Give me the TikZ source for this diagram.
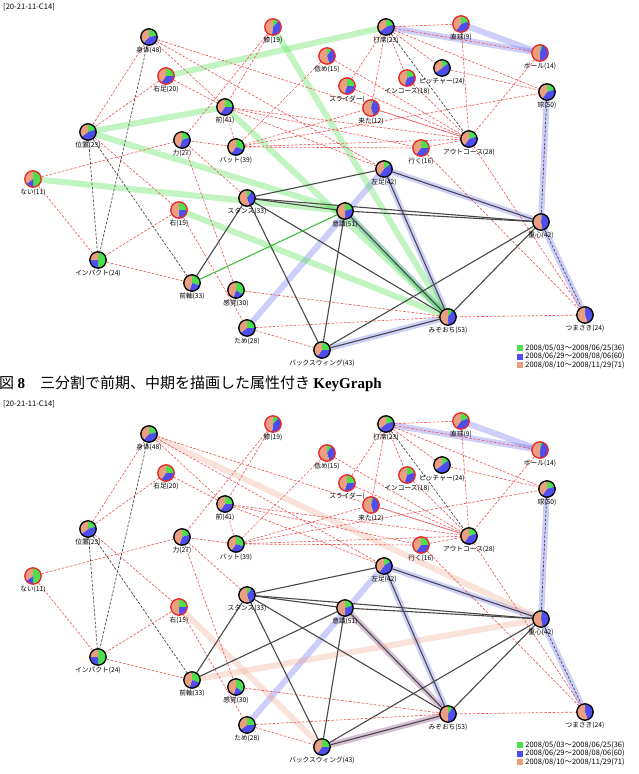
\documentclass[tikz,border=0pt]{standalone}
\usepackage{fontspec}
\setmainfont{Noto Sans CJK JP}
\newfontfamily\capserif{Liberation Serif}
\usepackage{tikz}
\usetikzlibrary{positioning}
\pgfdeclarelayer{bandlayer}
\pgfdeclarelayer{edgelayer}
\pgfsetlayers{bandlayer,edgelayer,main}

\definecolor{kgreen}{RGB}{76,224,76}
\definecolor{kblue}{RGB}{78,78,238}
\definecolor{kpeach}{RGB}{234,160,128}
\definecolor{kring}{RGB}{232,40,40}
\definecolor{kdashred}{RGB}{240,88,88}
\definecolor{kdark}{RGB}{72,72,72}
\definecolor{kgline}{RGB}{60,190,60}

\newcommand{\kr}{8.2}
% pie node: name, position, green share, blue share, ring colour, label
\newcommand{\kpie}[6]{%
  \pgfmathsetmacro\ka{-90+360*#3}%
  \pgfmathsetmacro\kb{\ka+360*#4}%
  \fill[kgreen] (#2) -- ++(-90:\kr) arc[start angle=-90, end angle=\ka, radius=\kr] -- cycle;
  \fill[kblue] (#2) -- ++(\ka:\kr) arc[start angle=\ka, end angle=\kb, radius=\kr] -- cycle;
  \fill[kpeach] (#2) -- ++(\kb:\kr) arc[start angle=\kb, end angle=270, radius=\kr] -- cycle;
  \node[kwnode, draw=#5, label={[klabel]below:#6}] (#1) at (#2) {};
}

\newcommand{\kgnodes}{%
  \kpie{shintai}{149,37}{.22}{.40}{black}{身体(48)}
  \kpie{hiza}{273,27}{.12}{.40}{kring}{膝(19)}
  \kpie{migiashi}{166,76}{.25}{.35}{kring}{右足(20)}
  \kpie{mae}{225,107}{.25}{.35}{black}{前(41)}
  \kpie{ichi}{88,132}{.20}{.45}{black}{位置(23)}
  \kpie{chikara}{182,140}{.20}{.35}{black}{力(27)}
  \kpie{bat}{236,147}{.30}{.30}{black}{バット(39)}
  \kpie{nai}{33,179}{.50}{.15}{kring}{ない(11)}
  \kpie{hikume}{327,56}{.10}{.35}{kring}{低め(15)}
  \kpie{slider}{347,86}{.25}{.30}{kring}{スライダー(}
  \kpie{kita}{371,108}{.05}{.40}{kring}{来た(12)}
  \kpie{daseki}{386,27}{.20}{.45}{black}{打席(23)}
  \kpie{chokkyu}{461,24}{.20}{.40}{kring}{直球(9)}
  \kpie{ball}{540,53}{.05}{.45}{kring}{ボール(14)}
  \kpie{pitcher}{442,68}{.15}{.50}{black}{ピッチャー(24)}
  \kpie{incourse}{407,78}{.20}{.35}{kring}{インコース(18)}
  \kpie{kyu}{547,92}{.20}{.40}{black}{球(50)}
  \kpie{outcourse}{469,139}{.20}{.40}{black}{アウトコース(28)}
  \kpie{iku}{421,148}{.25}{.35}{kring}{行く(16)}
  \kpie{hidariashi}{384,169}{.15}{.45}{black}{左足(42)}
  \kpie{migi}{179,210}{.25}{.25}{kring}{右(15)}
  \kpie{stance}{247,198}{.10}{.35}{black}{スタンス(33)}
  \kpie{impact}{98,260}{.50}{.25}{black}{インパクト(24)}
  \kpie{maejiku}{192,283}{.30}{.25}{black}{前軸(33)}
  \kpie{kankaku}{236,290}{.35}{.20}{black}{感覚(30)}
  \kpie{tame}{247,328}{.25}{.40}{black}{ため(28)}
  \kpie{backswing}{322,350}{.25}{.35}{black}{バックスウィング(43)}
  \kpie{ishiki}{345,211}{.20}{.30}{black}{意識(51)}
  \kpie{jushin}{541,222}{.02}{.45}{black}{重心(42)}
  \kpie{mizoochi}{448,317}{.10}{.40}{black}{みぞおち(53)}
  \kpie{tsumasaki}{585,315}{0}{.45}{black}{つまさき(24)}
}

\newcommand{\kgedges}{%
  \begin{pgfonlayer}{edgelayer}
  \foreach \a/\b in {shintai/ichi, shintai/mae, shintai/hidariashi, shintai/outcourse,
      migiashi/ichi, migiashi/mae, hiza/mae, hiza/chikara, hikume/bat, hikume/outcourse,
      slider/daseki, slider/outcourse, daseki/chokkyu, daseki/ball, daseki/kyu,
      daseki/pitcher, daseki/incourse, daseki/kita, pitcher/kyu, incourse/outcourse,
      chokkyu/outcourse, ball/outcourse, kita/outcourse, mae/bat, mae/outcourse,
      mae/iku, mae/hidariashi, bat/chikara, bat/kita, bat/kyu, bat/outcourse, bat/iku,
      iku/outcourse, iku/tsumasaki, outcourse/tsumasaki, tsumasaki/mizoochi,
      nai/chikara, nai/impact, ichi/migi, migi/impact, migi/tame, chikara/stance,
      chikara/kankaku, impact/maejiku, kankaku/mizoochi, tame/mizoochi, tame/backswing}
    \draw[kdash] (\a) -- (\b);
  \foreach \a/\b in {shintai/impact, ichi/impact, ichi/maejiku, daseki/outcourse,
      kyu/jushin, jushin/tsumasaki}
    \draw[kgdash] (\a) -- (\b);
  \foreach \a/\b in {stance/hidariashi, stance/ishiki, stance/jushin, stance/mizoochi,
      stance/backswing, stance/maejiku, ishiki/backswing, ishiki/mizoochi, ishiki/jushin,
      hidariashi/jushin, hidariashi/mizoochi, jushin/mizoochi, jushin/backswing,
      backswing/mizoochi}
    \draw[kline] (\a) -- (\b);
  \end{pgfonlayer}
  \begin{pgfonlayer}{bandlayer}
  \foreach \a/\b in {daseki/ball, chokkyu/ball, kyu/jushin, jushin/tsumasaki,
      hidariashi/jushin, hidariashi/mizoochi, ishiki/mizoochi, backswing/mizoochi,
      tame/hidariashi}
    \draw[bband] (\a.center) -- (\b.center);
  \end{pgfonlayer}
}

\newcommand{\kglegend}{%
  \node[kkey, fill=kgreen] (key1) at (520,348) {};
  \node[kkey, fill=kblue, below=2.2pt of key1] (key2) {};
  \node[kkey, fill=kpeach, below=2.2pt of key2] (key3) {};
  \node[klegend, right=1.5pt of key1] (leg1) {2008/05/03～2008/06/25(36)};
  \node[klegend, right=1.5pt of key2] (leg2) {2008/06/29～2008/08/06(60)};
  \node[klegend, right=1.5pt of key3] (leg3) {2008/08/10～2008/11/29(71)};
  \node[ktag] (tag) at (3,3) {[20-21-11-C14]};
}

\begin{document}
\begin{tikzpicture}[x=1pt, y=-1pt,
    kwnode/.style={circle, minimum size=16.4pt, inner sep=0pt, line width=1.3pt},
    klabel/.style={font=\fontsize{6.7}{7}\selectfont, inner sep=0.8pt},
    kdash/.style={draw=kdashred, line width=0.65pt, dash pattern=on 2.6pt off 1.6pt},
    kgdash/.style={draw=kdark, line width=0.7pt, dash pattern=on 2.6pt off 1.6pt},
    kline/.style={draw=kdark, line width=1.1pt},
    gband/.style={draw=kgreen, line width=6pt, opacity=0.35},
    bband/.style={draw=kblue, line width=6pt, opacity=0.28},
    sband/.style={draw=kpeach, line width=6pt, opacity=0.3},
    kkey/.style={rectangle, minimum size=6pt, inner sep=0pt},
    klegend/.style={font=\fontsize{7.5}{8}\selectfont, inner sep=0.5pt, anchor=west},
    ktag/.style={font=\fontsize{7.6}{8}\selectfont, inner sep=0pt, anchor=north west}
]
\useasboundingbox (0,0) rectangle (639,774);

\begin{scope}[name prefix=t-]
  \kgnodes
  \kgedges
  \kglegend
  \begin{pgfonlayer}{edgelayer}
    \draw[kgline, line width=1.1pt] (maejiku) -- (ishiki);
  \end{pgfonlayer}
  \begin{pgfonlayer}{bandlayer}
    \foreach \a/\b in {migiashi/daseki, hiza/mizoochi, mae/mizoochi, migi/mizoochi,
        nai/ishiki, ichi/mae, ichi/ishiki, ishiki/mizoochi}
      \draw[gband] (\a.center) -- (\b.center);
  \end{pgfonlayer}
\end{scope}

\node[anchor=west, inner sep=0pt, font=\fontsize{15}{16}\selectfont] (caption) at (-1,384)
  {図 {\capserif\bfseries 8}\quad 三分割で前期、中期を描画した属性付き {\capserif\bfseries KeyGraph}};

\begin{scope}[yshift=-397pt, name prefix=b-]
  \kgnodes
  \kgedges
  \kglegend
  \begin{pgfonlayer}{edgelayer}
    \draw[kline] (maejiku) -- (ishiki);
  \end{pgfonlayer}
  \begin{pgfonlayer}{bandlayer}
    \foreach \a/\b in {shintai/jushin, migi/backswing, maejiku/jushin,
        backswing/mizoochi, ishiki/mizoochi}
      \draw[sband] (\a.center) -- (\b.center);
  \end{pgfonlayer}
\end{scope}
\end{tikzpicture}
\end{document}
